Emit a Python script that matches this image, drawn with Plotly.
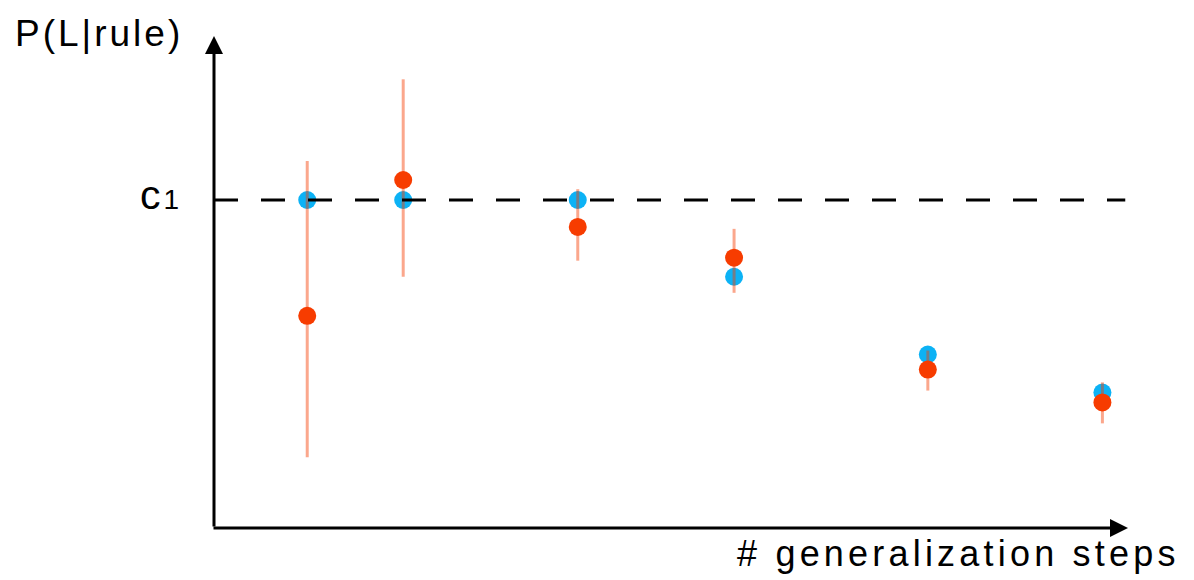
import plotly.graph_objects as go

# ---- data ----
steps = [1.02, 2.07, 3.98, 5.69, 7.81, 9.72]          # x positions along "# generalization steps"
blue_vals = [1.0, 1.0, 1.0, 0.766, 0.529, 0.413]
red_vals = [0.647, 1.061, 0.918, 0.824, 0.483, 0.383]
red_upper = [1.119, 1.368, 1.033, 0.912, 0.541, 0.444]
red_lower = [0.216, 0.766, 0.815, 0.717, 0.419, 0.319]
c1_value = 1.0

err_plus = [u - v for u, v in zip(red_upper, red_vals)]
err_minus = [v - l for v, l in zip(red_vals, red_lower)]

BLUE = "rgb(12,178,245)"
RED = "rgb(247,60,0)"
FONT = "Liberation Sans, Arial, Helvetica, sans-serif"

fig = go.Figure()
fig.add_trace(go.Scatter(
    x=steps, y=blue_vals, mode="markers",
    marker=dict(color=BLUE, size=18, line=dict(width=0)),
    showlegend=False, cliponaxis=False,
))
fig.add_trace(go.Scatter(
    x=steps, y=red_vals, mode="markers",
    marker=dict(color=RED, size=18, line=dict(width=0)),
    error_y=dict(type="data", symmetric=False, array=err_plus, arrayminus=err_minus,
                 color="rgba(247,60,0,0.45)", thickness=3, width=0),
    showlegend=False, cliponaxis=False,
))

# dashed c1 reference line
fig.add_shape(type="line", xref="x domain", yref="y", x0=0, x1=0.997, y0=c1_value, y1=c1_value,
              line=dict(color="black", width=3, dash="24px,23px"), layer="above")

# axes with arrows
fig.add_annotation(xref="x domain", yref="y domain", x=0, y=1, ax=0, ay=492,
                   axref="pixel", ayref="pixel", text="", showarrow=True,
                   arrowhead=2, arrowsize=1.2, arrowwidth=3, arrowcolor="black", standoff=0)
fig.add_annotation(xref="x domain", yref="y domain", x=1, y=0, ax=-916, ay=0,
                   axref="pixel", ayref="pixel", text="", showarrow=True,
                   arrowhead=2, arrowsize=1.2, arrowwidth=3, arrowcolor="black", standoff=0)

# labels
fig.add_annotation(xref="paper", yref="paper", x=-0.220, y=1.006, xanchor="left", yanchor="middle",
                   text="<span style='letter-spacing:3px'>P(L|rule)</span>", showarrow=False,
                   font=dict(family=FONT, size=37, color="black"))
fig.add_annotation(xref="paper", yref="y", x=-0.036, y=1.015, xanchor="right", yanchor="middle",
                   text="<span style='letter-spacing:3px'>c</span><span style='font-size:28px'>1</span>",
                   showarrow=False, font=dict(family=FONT, size=41, color="black"))
fig.add_annotation(xref="paper", yref="paper", x=0.570, y=-0.052, xanchor="left", yanchor="middle",
                   text="<span style='letter-spacing:4.2px'># generalization steps</span>",
                   showarrow=False, font=dict(family=FONT, size=36, color="black"))

fig.update_xaxes(range=[0, 10], visible=False, showgrid=False, zeroline=False)
fig.update_yaxes(range=[0, 1.5], visible=False, showgrid=False, zeroline=False)
fig.update_layout(
    width=1194, height=580,
    margin=dict(l=206, r=74, t=28, b=60),
    plot_bgcolor="white", paper_bgcolor="white",
    font=dict(family=FONT),
)
fig.write_html("out.html")
